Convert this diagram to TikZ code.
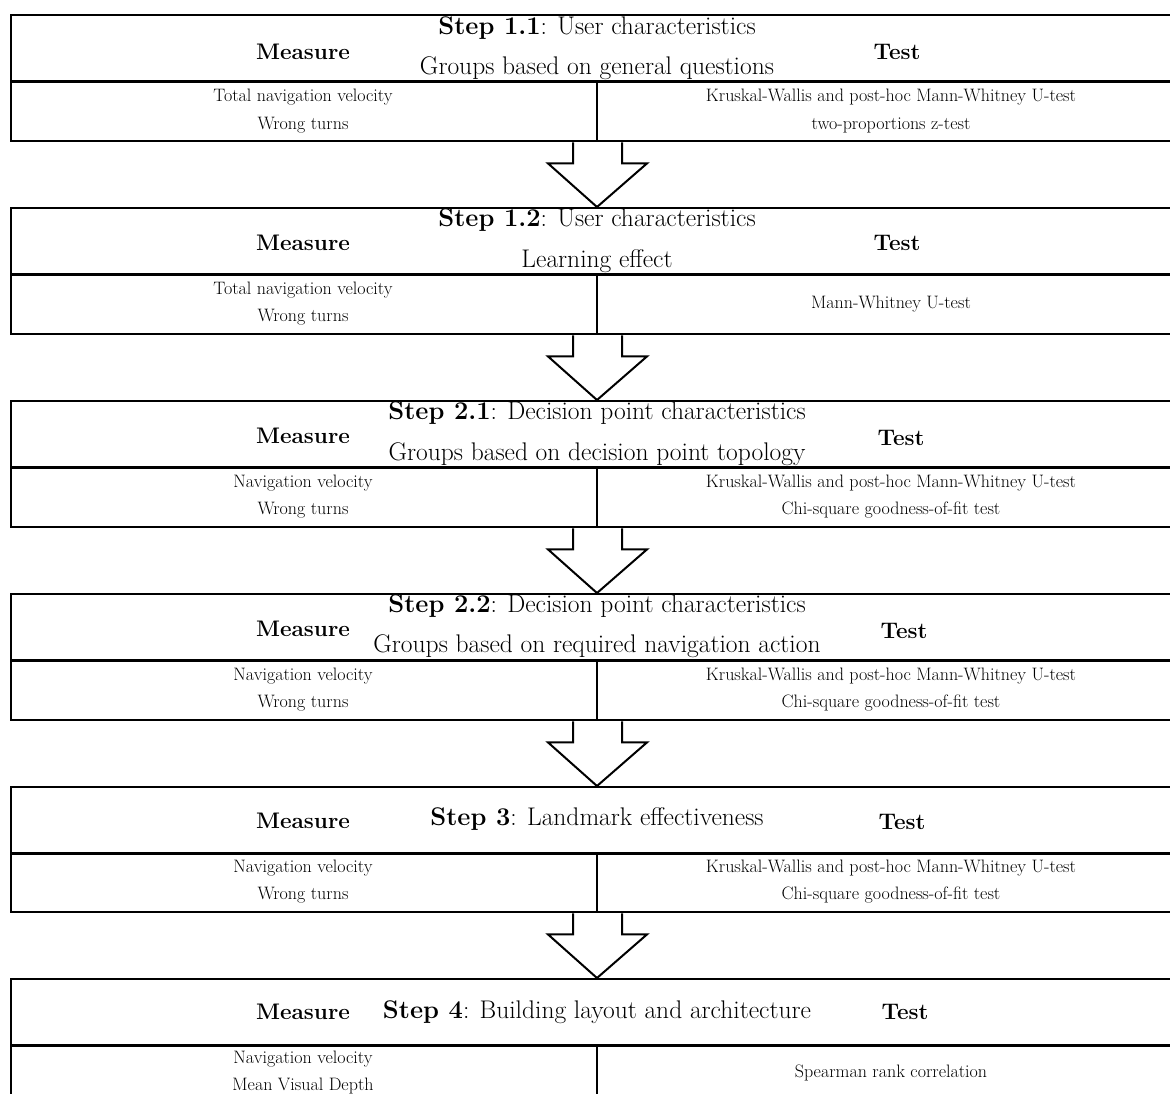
\documentclass[tikz,border=0pt]{standalone}
\usetikzlibrary{calc}
\begin{document}
\begin{tikzpicture}[x=1pt,y=-1pt,
  boxline/.style={line width=2.4pt},
  stepbox/.style={draw, line width=2.4pt, minimum width=1164pt, anchor=north west, inner sep=0pt},
  arrowline/.style={line width=2pt, line join=miter},
  headtxt/.style={font=\fontsize{22.5}{26}\selectfont\bfseries, inner sep=0pt},
  ttl/.style={font=\fontsize{25.5}{29}\selectfont, inner sep=0pt},
  small/.style={font=\fontsize{18}{21}\selectfont, inner sep=0pt}]
\useasboundingbox (0,0) rectangle (1170,1093);
% boxes
\node[stepbox, minimum height=126pt] (b1) at (10,14) {};
\node[stepbox, minimum height=126pt] (b2) at (10,207) {};
\node[stepbox, minimum height=126pt] (b3) at (10,400) {};
\node[stepbox, minimum height=126pt] (b4) at (10,593) {};
\node[stepbox, minimum height=125pt] (b5) at (10,786) {};
\node[stepbox, minimum height=140pt] (b6) at (10,978) {};
% dividers
\foreach \b in {b1,b2,b3,b4,b5,b6}{
  \draw[boxline] ($(\b.north west)+(0,67.5)$) coordinate (\b h) -- ($(\b.north east)+(0,67.5)$);
  \draw[line width=2pt] ($(\b h)+(587,0)$) -- ($(\b.south west)+(587,0)$);
}
% block arrows
\foreach \a/\c in {b1/b2,b2/b3,b3/b4,b4/b5,b5/b6}{
  \draw[arrowline, fill=white] ($(\a.south west)+(563,0)$) -- ($(\a.south west)+(563,21)$)
    -- ($(\a.south west)+(538,21)$) -- ($(\c.north west)+(587,0)$)
    -- ($(\a.south west)+(637,21)$) -- ($(\a.south west)+(612,21)$)
    -- ($(\a.south west)+(612,0)$);
}
% Box 1
\node[ttl] (s1a) at (597,28) {\textbf{Step 1.1}: User characteristics};
\node[ttl] (s1b) at (597,68) {Groups based on general questions};
\node[headtxt] (m1) at (303,52) {Measure};
\node[headtxt] (t1) at (897,52) {Test};
\node[small] (l1a) at (303,97) {Total navigation velocity};
\node[small] (l1b) at (303,125) {Wrong turns};
\node[small] (r1a) at (891,97) {Kruskal-Wallis and post-hoc Mann-Whitney U-test};
\node[small] (r1b) at (891,125) {two-proportions z-test};
% Box 2
\node[ttl] (s2a) at (597,220) {\textbf{Step 1.2}: User characteristics};
\node[ttl] (s2b) at (597,261) {Learning effect};
\node[headtxt] (m2) at (303,243) {Measure};
\node[headtxt] (t2) at (897,243) {Test};
\node[small] (l2a) at (303,290) {Total navigation velocity};
\node[small] (l2b) at (303,317) {Wrong turns};
\node[small] (r2a) at (891,304) {Mann-Whitney U-test};
% Box 3
\node[ttl] (s3a) at (597,413) {\textbf{Step 2.1}: Decision point characteristics};
\node[ttl] (s3b) at (597,454) {Groups based on decision point topology};
\node[headtxt] (m3) at (303,436) {Measure};
\node[headtxt] (t3) at (901,438) {Test};
\node[small] (l3a) at (303,483) {Navigation velocity};
\node[small] (l3b) at (303,510) {Wrong turns};
\node[small] (r3a) at (891,483) {Kruskal-Wallis and post-hoc Mann-Whitney U-test};
\node[small] (r3b) at (891,510) {Chi-square goodness-of-fit test};
% Box 4
\node[ttl] (s4a) at (597,606) {\textbf{Step 2.2}: Decision point characteristics};
\node[ttl] (s4b) at (597,646) {Groups based on required navigation action};
\node[headtxt] (m4) at (303,629) {Measure};
\node[headtxt] (t4) at (904,631) {Test};
\node[small] (l4a) at (303,676) {Navigation velocity};
\node[small] (l4b) at (303,703) {Wrong turns};
\node[small] (r4a) at (891,676) {Kruskal-Wallis and post-hoc Mann-Whitney U-test};
\node[small] (r4b) at (891,703) {Chi-square goodness-of-fit test};
% Box 5
\node[ttl] (s5a) at (597,819) {\textbf{Step 3}: Landmark effectiveness};
\node[headtxt] (m5) at (303,821) {Measure};
\node[headtxt] (t5) at (902,822) {Test};
\node[small] (l5a) at (303,868) {Navigation velocity};
\node[small] (l5b) at (303,895) {Wrong turns};
\node[small] (r5a) at (891,868) {Kruskal-Wallis and post-hoc Mann-Whitney U-test};
\node[small] (r5b) at (891,895) {Chi-square goodness-of-fit test};
% Box 6
\node[ttl] (s6a) at (597,1012) {\textbf{Step 4}: Building layout and architecture};
\node[headtxt] (m6) at (303,1012) {Measure};
\node[headtxt] (t6) at (905,1012) {Test};
\node[small] (l6a) at (303,1059) {Navigation velocity};
\node[small] (l6b) at (303,1086) {Mean Visual Depth};
\node[small] (r6a) at (891,1073) {Spearman rank correlation};
\end{tikzpicture}
\end{document}
